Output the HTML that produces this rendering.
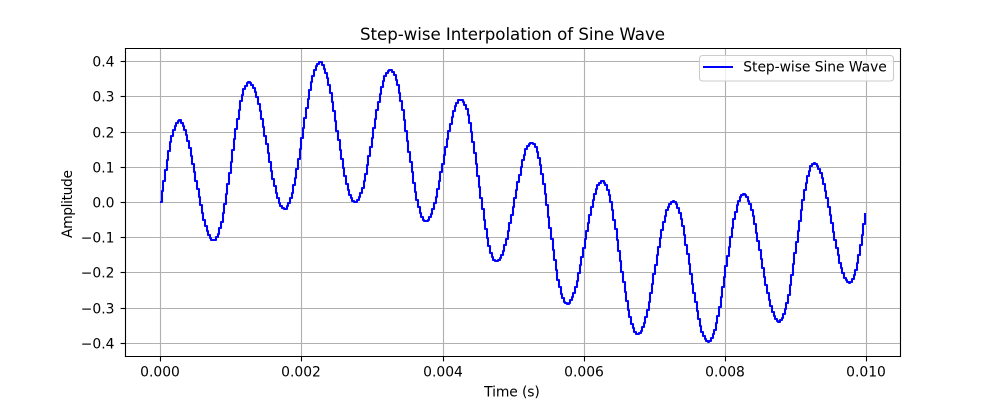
<!DOCTYPE html>
<html lang="en">
<head>
<meta charset="utf-8">
<title>Step-wise Interpolation of Sine Wave</title>
<style>
html,body{margin:0;padding:0;background:#fff;width:1000px;height:400px;overflow:hidden}
svg{display:block}
text{font-family:"DejaVu Sans","Liberation Sans",sans-serif;fill:#000}
</style>
</head>
<body>
<svg id="chart" xmlns="http://www.w3.org/2000/svg" width="1000" height="400" viewBox="0 0 1000 400">
  <rect x="0" y="0" width="1000" height="400" fill="#fff"/>
  <rect x="125" y="48" width="775" height="308" fill="#fff"/>
  <g id="grid"></g>
  <defs><clipPath id="plot-clip"><rect x="125" y="48" width="775" height="308"/></clipPath></defs>
  <g clip-path="url(#plot-clip)">
    <path id="series" fill="none" stroke="#0000ff" stroke-width="2.08" stroke-linejoin="round" stroke-linecap="butt"/>
  </g>
  <g id="ticks"></g>
  <g stroke="#000" stroke-width="1.11" stroke-linecap="square">
    <line x1="125.5" y1="48.5" x2="125.5" y2="356.5"/>
    <line x1="900.5" y1="48.5" x2="900.5" y2="356.5"/>
    <line x1="125.5" y1="48.5" x2="900.5" y2="48.5"/>
    <line x1="125.5" y1="356.5" x2="900.5" y2="356.5"/>
  </g>
  <text x="512.5" y="40" text-anchor="middle" font-size="16.67" textLength="305" lengthAdjust="spacing">Step-wise Interpolation of Sine Wave</text>
  <text x="512" y="396.5" text-anchor="middle" font-size="13.89" textLength="55.7" lengthAdjust="spacing">Time (s)</text>
  <text transform="translate(72,204) rotate(-90)" text-anchor="middle" font-size="13.89" textLength="68" lengthAdjust="spacing">Amplitude</text>
  <g>
    <rect x="699.5" y="55.5" width="194" height="25.5" rx="3" ry="3" fill="#fff" fill-opacity="0.8" stroke="#cccccc" stroke-width="1.11"/>
    <line x1="703" y1="67" x2="733" y2="67" stroke="#0000ff" stroke-width="2.08"/>
    <text x="743.3" y="71.5" font-size="13.89" textLength="143.5" lengthAdjust="spacing">Step-wise Sine Wave</text>
  </g>
</svg>
<script>
const sampleRate = 44100;
const amplitudes = [
0,.03,.06,.09,.12,.145,.17,.188,.205,.215,.225,.229,.232,.225,.217,.205,.191,.173,.153,.132,.109,.085,.061,.037,.013,-.009,-.031,-.051,-.069,-.083,-.095,-.102,-.108,-.109,-.108,-.1,-.09,-.074,-.056,-.032,-.007,
.022,.052,.083,.115,.147,.178,.208,.237,.262,.286,.304,.32,.33,.338,.34,.339,.333,.325,.313,.299,.28,.259,.236,.212,.188,.164,.138,.113,.089,.066,.045,.025,.011,-.002,-.011,-.018,-.02,-.019,-.012,-.003,
.011,.026,.047,.069,.095,.123,.152,.181,.21,.239,.266,.293,.318,.341,.359,.374,.386,.393,.397,.397,.389,.379,.366,.352,.332,.31,.285,.259,.231,.203,.175,.148,.122,.097,.073,.051,.034,.02,.011,.004,
.001,.001,.007,.015,.027,.041,.06,.081,.105,.13,.156,.183,.21,.236,.261,.285,.307,.328,.344,.358,.367,.373,.376,.376,.37,.362,.348,.332,.311,.288,.261,.232,.203,.172,.143,.113,.084,.055,.029,.005,
-.014,-.031,-.043,-.051,-.054,-.054,-.05,-.044,-.033,-.02,-.004,.014,.036,.06,.084,.108,.133,.157,.18,.202,.223,.242,.259,.273,.282,.289,.291,.291,.285,.277,.263,.246,.224,.2,.171,.14,.108,.075,.043,.01,
-.02,-.05,-.077,-.103,-.125,-.145,-.156,-.165,-.168,-.169,-.166,-.16,-.15,-.138,-.122,-.104,-.083,-.061,-.038,-.014,.01,.034,.057,.078,.099,.119,.135,.15,.158,.165,.168,.169,.164,.156,.142,.126,.104,.08,.052,.023,
-.009,-.042,-.074,-.106,-.136,-.166,-.194,-.221,-.242,-.262,-.273,-.283,-.288,-.29,-.286,-.28,-.27,-.259,-.242,-.224,-.203,-.18,-.156,-.131,-.106,-.082,-.059,-.036,-.015,.006,.022,.037,.047,.055,.059,.06,.055,.048,.035,.021,
0,-.023,-.05,-.077,-.107,-.138,-.169,-.199,-.227,-.255,-.282,-.308,-.328,-.347,-.359,-.369,-.374,-.375,-.372,-.366,-.356,-.343,-.326,-.307,-.283,-.258,-.232,-.205,-.178,-.152,-.128,-.103,-.08,-.057,-.04,-.023,-.013,-.005,0,.003,
-.001,-.007,-.018,-.031,-.049,-.069,-.094,-.121,-.149,-.177,-.205,-.233,-.259,-.285,-.31,-.333,-.352,-.369,-.38,-.389,-.394,-.398,-.394,-.387,-.376,-.363,-.345,-.324,-.298,-.271,-.242,-.213,-.183,-.154,-.127,-.1,-.073,-.047,-.028,-.009,
.003,.014,.02,.022,.019,.013,.004,-.007,-.023,-.041,-.063,-.087,-.112,-.137,-.163,-.188,-.212,-.235,-.258,-.28,-.297,-.313,-.324,-.333,-.338,-.34,-.336,-.33,-.319,-.305,-.286,-.264,-.236,-.207,-.177,-.146,-.115,-.083,-.053,-.023,
.006,.034,.055,.074,.089,.101,.107,.11,.108,.103,.094,.083,.069,.052,.032,.01,-.013,-.036,-.06,-.084,-.107,-.13,-.152,-.172,-.189,-.203,-.215,-.223,-.228,-.23,-.228,-.219,-.207,-.192,-.173,-.15,-.122,-.095,-.063,-.03
];
const xTickValues = [0, 0.002, 0.004, 0.006, 0.008, 0.01];
const xTickLabels = ["0.000", "0.002", "0.004", "0.006", "0.008", "0.010"];
const yTickValues = [-0.4, -0.3, -0.2, -0.1, 0, 0.1, 0.2, 0.3, 0.4];
const yTickLabels = ["\u22120.4", "\u22120.3", "\u22120.2", "\u22120.1", "0.0", "0.1", "0.2", "0.3", "0.4"];

const NS = "http://www.w3.org/2000/svg";
const plot = { left: 125, right: 900, top: 48, bottom: 356 };
const xSpan = (amplitudes.length - 1) / sampleRate;
const xMin = -0.05 * xSpan, xMax = 1.05 * xSpan;
const yAbs = Math.max.apply(null, amplitudes.map(Math.abs));
const yMin = -yAbs * 1.1, yMax = yAbs * 1.1;
function xScale(t) { return plot.left + (t - xMin) / (xMax - xMin) * (plot.right - plot.left); }
function yScale(v) { return plot.bottom - (v - yMin) / (yMax - yMin) * (plot.bottom - plot.top); }
function snapOdd(p) { return Math.floor(p + 0.5) + 0.5; }
function snapEven(p) { return Math.floor(p + 0.5); }

const gridLayer = document.getElementById("grid");
const tickLayer = document.getElementById("ticks");
function makeLine(x1, y1, x2, y2, color) {
  const l = document.createElementNS(NS, "line");
  l.setAttribute("x1", x1);
  l.setAttribute("y1", y1);
  l.setAttribute("x2", x2);
  l.setAttribute("y2", y2);
  l.setAttribute("stroke", color);
  l.setAttribute("stroke-width", "1.11");
  return l;
}
function makeText(x, y, anchor, content) {
  const t = document.createElementNS(NS, "text");
  t.setAttribute("x", x);
  t.setAttribute("y", y);
  t.setAttribute("text-anchor", anchor);
  t.setAttribute("font-size", "13.89");
  t.textContent = content;
  return t;
}
xTickValues.forEach(function (v, i) {
  const px = snapOdd(xScale(v));
  const g = makeLine(px, plot.top, px, plot.bottom, "#b0b0b0");
  
  
  gridLayer.appendChild(g);
  const m = makeLine(px, plot.bottom, px, plot.bottom + 5.4, "#000");
  
  
  tickLayer.appendChild(m);
  const t = makeText(px - 0.5, 376.5, "middle", xTickLabels[i]);
  
  
  tickLayer.appendChild(t);
});
yTickValues.forEach(function (v, i) {
  const py = snapOdd(yScale(v));
  const g = makeLine(plot.left, py, plot.right, py, "#b0b0b0");
  
  
  gridLayer.appendChild(g);
  const m = makeLine(plot.left - 4.4, py, plot.left, py, "#000");
  
  
  tickLayer.appendChild(m);
  const t = makeText(plot.left - 10.5, py + 5, "end", yTickLabels[i]);
  
  
  tickLayer.appendChild(t);
});

let d = "M" + snapEven(xScale(0)) + " " + snapEven(yScale(amplitudes[0]));
for (let i = 1; i < amplitudes.length; i++) {
  d += "H" + snapEven(xScale(i / sampleRate)) + "V" + snapEven(yScale(amplitudes[i]));
}
document.getElementById("series").setAttribute("d", d);
</script>
</body>
</html>
